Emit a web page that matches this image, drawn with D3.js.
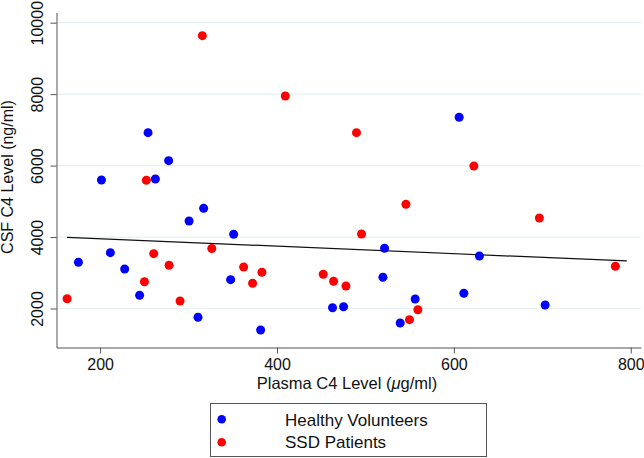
<!DOCTYPE html>
<html><head><meta charset="utf-8">
<script src="https://cdn.jsdelivr.net/npm/d3@7"></script>
<style>body{margin:0;background:#fff}svg{display:block}text{font-family:"Liberation Sans",Arial,Helvetica,sans-serif;fill:#111}</style>
</head><body><svg id="c" width="644" height="458"></svg>
<script>
// Healthy Volunteers: plasma C4 (µg/ml), CSF C4 (ng/ml)
const healthyX = [175.5,201.5,211.6,227.8,244.7,254.2,262.5,277.5,310.7,300.6,317.1,351,347.6,381.5,462.8,475.3,521.6,519.8,556.3,539.3,606,628.9,611.3,703.2];
const healthyY = [3293,5597,3562,3106,2369,6921,5625,6137,1754,4449,4805,4077,2806,1398,2022,2050,3685,2873,2266,1594,7352,3469,2425,2098];
// SSD Patients
const ssdX = [162.7,252.3,250.1,260.6,278,290.4,315.6,326.3,362.3,372.4,383,409.4,452.3,464,478,489.9,495.6,545.8,549.8,559.3,622.6,696.7,782.6];
const ssdY = [2274,5588,2750,3534,3209,2210,9636,3679,3162,2705,3013,7948,2957,2761,2630,6921,4085,4917,1687,1966,5989,4533,3181];
// linear fit endpoints
const fitX = [162.7,795.5];
const fitY = [3993,3330];
const xTicks = [200,400,600,800];
const yTicks = [2000,4000,6000,8000,10000];
const seriesNames = ["Healthy Volunteers","SSD Patients"];
const seriesColors = ["#0000ff","#ff0000"];

const svg = d3.select("#c");
const L=56.5, R=641, T=12.5, B=347.5;
const x = d3.scaleLinear().domain([150.7,811.6]).range([L,R]);
const y = d3.scaleLinear().domain([908,10285]).range([B,T]);

// gridlines
svg.append("g").selectAll("line").data(yTicks).join("line")
  .attr("x1",L).attr("x2",R).attr("y1",d=>y(d)).attr("y2",d=>y(d))
  .attr("stroke","#e6eff1").attr("stroke-width",1.2);

// x axis
const gx = svg.append("g").attr("transform",`translate(0,${B})`)
  .call(d3.axisBottom(x).tickValues(xTicks).tickFormat(d3.format("d")).tickSize(6).tickSizeOuter(0));
gx.select(".domain").attr("stroke","#555");
gx.selectAll(".tick line").attr("stroke","#555");
gx.selectAll(".tick text").attr("font-size",16).attr("fill","#111").attr("dy","0.71em").attr("y",11);

// y axis
const gy = svg.append("g").attr("transform",`translate(${L},0)`)
  .call(d3.axisLeft(y).tickValues(yTicks).tickFormat(d3.format("d")).tickSize(6).tickSizeOuter(0));
gy.select(".domain").attr("stroke","#555");
gy.selectAll(".tick line").attr("stroke","#555");
gy.selectAll(".tick text").attr("font-size",16).attr("fill","#111")
  .attr("x",null).attr("dy",null).attr("text-anchor","middle")
  .attr("transform","translate(-13.5,0) rotate(-90)").attr("y",0);

// axis titles
const xt = svg.append("text").attr("x",347).attr("y",389).attr("text-anchor","middle").attr("font-size",16.5);
xt.append("tspan").text("Plasma C4 Level (");
xt.append("tspan").attr("font-style","italic").text("μ");
xt.append("tspan").text("g/ml)");
svg.append("text").attr("transform","translate(13,177) rotate(-90)").attr("text-anchor","middle")
  .attr("font-size",16).text("CSF C4 Level (ng/ml)");

// fit line
svg.append("line").attr("x1",x(fitX[0])).attr("y1",y(fitY[0])).attr("x2",x(fitX[1])).attr("y2",y(fitY[1]))
  .attr("stroke","#111").attr("stroke-width",1.2);

// points
const sets = [[healthyX,healthyY],[ssdX,ssdY]];
sets.forEach((s,i)=>{
  svg.append("g").selectAll("circle").data(s[0].map((v,j)=>[v,s[1][j]])).join("circle")
    .attr("cx",d=>x(d[0])).attr("cy",d=>y(d[1])).attr("r",4.5).attr("fill",seriesColors[i]);
});

// legend
const lg = svg.append("g");
lg.append("rect").attr("x",210.5).attr("y",403.5).attr("width",276).attr("height",53)
  .attr("fill","#fff").attr("stroke","#555").attr("stroke-width",1);
seriesNames.forEach((n,i)=>{
  lg.append("circle").attr("cx",221.7).attr("cy",419.3+i*23).attr("r",4.3).attr("fill",seriesColors[i]);
  lg.append("text").attr("x",285).attr("y",425.5+i*22.5).attr("font-size",17).text(n);
});
</script></body></html>
